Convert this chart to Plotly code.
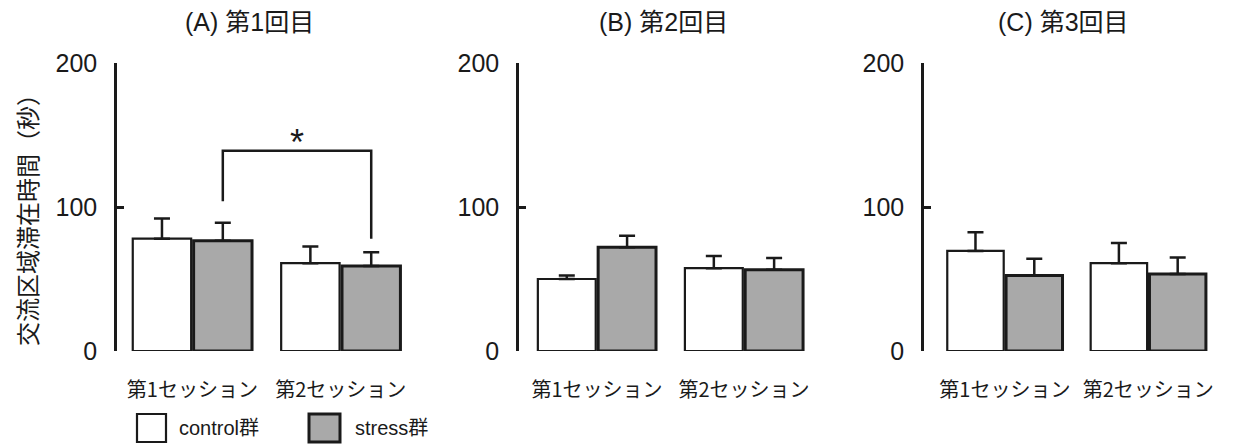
import plotly.graph_objects as go
from plotly.subplots import make_subplots

W, H = 1234, 445
OX, OY = 8, 8  # page body margin offset

sessions = ["第1セッション", "第2セッション"]
panel_titles = ["(A) 第1回目", "(B) 第2回目", "(C) 第3回目"]
control_means = [[78, 61], [50, 57.5], [69.5, 61]]
control_sem = [[14, 11.5], [2.5, 8.5], [13, 14]]
stress_means = [[76.5, 59], [72, 56.5], [52.5, 53.5]]
stress_sem = [[12.5, 9.5], [8, 8], [11.5, 11.5]]
y_ticks = [0, 100, 200]
y_title = "交流区域滞在時間（秒）"
legend_labels = ["control群", "stress群"]

# bracket (panel A): stress 1st session vs stress 2nd session
bracket_left_bottom = 104
bracket_top = 139
bracket_right_bottom = 78
star_y = 145

LAT = "Liberation Sans, Arial, Noto Sans CJK JP, sans-serif"
CJK = "Noto Sans CJK JP, sans-serif"
INK = "#1a1a1a"
GREY = "#a9a9a9"


def px(x):
    return (x - OX) / W


def py(y):
    return 1 - (y - OY) / H


# pixel layout (target screen pixels)
x_dom_px = [(117, 415), (519, 817.5), (924, 1220)]
x_ranges = [[-0.508, 1.5], [-0.53, 1.5], [-0.564, 1.5]]
y_bot_px, y_top_px = 351, 63
title_x_px = [249, 663, 1063]

fig = make_subplots(rows=1, cols=3)

for i in range(3):
    fig.add_trace(go.Bar(
        x=[0, 1], y=control_means[i], name=legend_labels[0],
        marker=dict(color="white", line=dict(color=INK, width=2.2)),
        error_y=dict(type="data", symmetric=False, array=control_sem[i],
                     arrayminus=[0] * len(sessions), color=INK,
                     thickness=2.5, width=8),
        showlegend=False), row=1, col=i + 1)
    fig.add_trace(go.Bar(
        x=[0, 1], y=stress_means[i], name=legend_labels[1],
        marker=dict(color=GREY, line=dict(color=INK, width=3)),
        error_y=dict(type="data", symmetric=False, array=stress_sem[i],
                     arrayminus=[0] * len(sessions), color=INK,
                     thickness=2.5, width=8),
        showlegend=False), row=1, col=i + 1)

fig.update_layout(
    width=W, height=H,
    margin=dict(l=0, r=0, t=0, b=0, pad=0, autoexpand=False),
    paper_bgcolor="white", plot_bgcolor="white",
    barmode="group", bargap=0.18, bargroupgap=0.04,
)

yd = [py(y_bot_px), py(y_top_px)]
for i in range(3):
    xa = "xaxis" if i == 0 else f"xaxis{i + 1}"
    ya = "yaxis" if i == 0 else f"yaxis{i + 1}"
    fig.update_layout(**{
        xa: dict(domain=[px(x_dom_px[i][0]), px(x_dom_px[i][1])],
                 type="linear", range=x_ranges[i],
                 tickvals=[0, 1], ticktext=sessions,
                 showline=False, ticks="", automargin=False,
                 showgrid=False, zeroline=False,
                 tickfont=dict(family=CJK, size=20, color=INK),
                 ticklabelstandoff=25),
        ya: dict(domain=yd, range=[0, 200], tickvals=y_ticks,
                 showline=True, linewidth=2.5, linecolor=INK,
                 ticks="inside", ticklen=7, tickwidth=2.5, tickcolor=INK,
                 showgrid=False, zeroline=False, automargin=False,
                 tickfont=dict(family=LAT, size=25, color=INK),
                 ticklabelstandoff=12),
    })
    fig.add_annotation(text=panel_titles[i], xref="paper", yref="paper",
                       x=px(title_x_px[i]), y=py(22), showarrow=False,
                       xanchor="center", yanchor="middle",
                       font=dict(family=LAT, size=25, color=INK))

# significance bracket on panel A, at stress bar centres
slot = (1 - 0.18) / 2
off = slot / 2
bx = [0 + off, 0 + off, 1 + off, 1 + off]
by = [bracket_left_bottom, bracket_top, bracket_top, bracket_right_bottom]
fig.add_trace(go.Scatter(x=bx, y=by, mode="lines",
                         line=dict(color=INK, width=2.5),
                         showlegend=False, hoverinfo="skip",
                         xaxis="x", yaxis="y"))
fig.add_annotation(text="*", x=0.5 + off, y=star_y, xref="x", yref="y",
                   showarrow=False, font=dict(family=LAT, size=36, color=INK),
                   yanchor="middle")

# y title
fig.add_annotation(text=y_title, xref="paper", yref="paper",
                   x=px(26), y=py(214), textangle=-90, showarrow=False,
                   xanchor="center", yanchor="middle",
                   font=dict(family=CJK, size=24, color=INK))

# legend
legend_boxes = [(137, 166, "white", 2.2), (309, 340, GREY, 3)]
legend_text_x = [177, 353]
for (x0, x1, col, lw), lab, tx in zip(legend_boxes, legend_labels, legend_text_x):
    fig.add_shape(type="rect", xref="paper", yref="paper",
                  x0=px(x0), x1=px(x1), y0=py(442), y1=py(414),
                  fillcolor=col, line=dict(color=INK, width=lw))
    fig.add_annotation(text=lab, xref="paper", yref="paper",
                       x=px(tx), y=py(428), showarrow=False,
                       xanchor="left", yanchor="middle",
                       font=dict(family=LAT, size=20, color=INK))

fig.write_html("out.html")
